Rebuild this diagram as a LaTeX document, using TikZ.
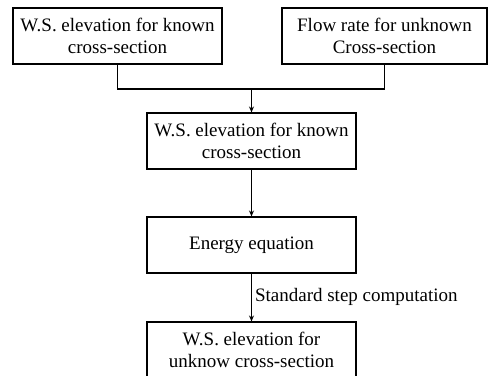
\documentclass[tikz,border=0pt]{standalone}
\usepackage{fontspec}
\setmainfont{Liberation Serif}
\usetikzlibrary{arrows.meta}
\begin{document}
\begin{tikzpicture}[x=1pt,y=-1pt,
  box/.style={draw, line width=1.1pt, rectangle, minimum height=56pt, align=center,
    inner sep=0pt, font=\fontsize{19}{22.5}\selectfont},
  conn/.style={line width=1.1pt},
  arr/.style={line width=1.1pt, -{Stealth[length=6pt,width=5pt]}}]
\useasboundingbox (0,0) rectangle (489,375);
\clip (0,0) rectangle (489,375);
\node[box, minimum width=209pt] (a) at (117.5,36) {W.S. elevation for known\\cross-section};
\node[box, minimum width=205pt] (b) at (384.5,36) {Flow rate for unknown\\Cross-section};
\node[box, minimum width=209pt] (c) at (251.5,141) {W.S. elevation for known\\cross-section};
\node[box, minimum width=209pt] (d) at (251.5,245) {Energy equation};
\node[box, minimum width=209pt] (e) at (251.5,350) {W.S. elevation for\\unknow cross-section};
\coordinate (j) at (251.5,89);
\draw[conn] (a.south) |- (j) -| (b.south);
\draw[arr] (j) -- (c.north);
\draw[arr] (c.south) -- (d.north);
\draw[arr] (d.south) -- node[right, inner sep=3pt, font=\fontsize{19}{20}\selectfont, yshift=1pt] {Standard step computation} (e.north);
\end{tikzpicture}
\end{document}
